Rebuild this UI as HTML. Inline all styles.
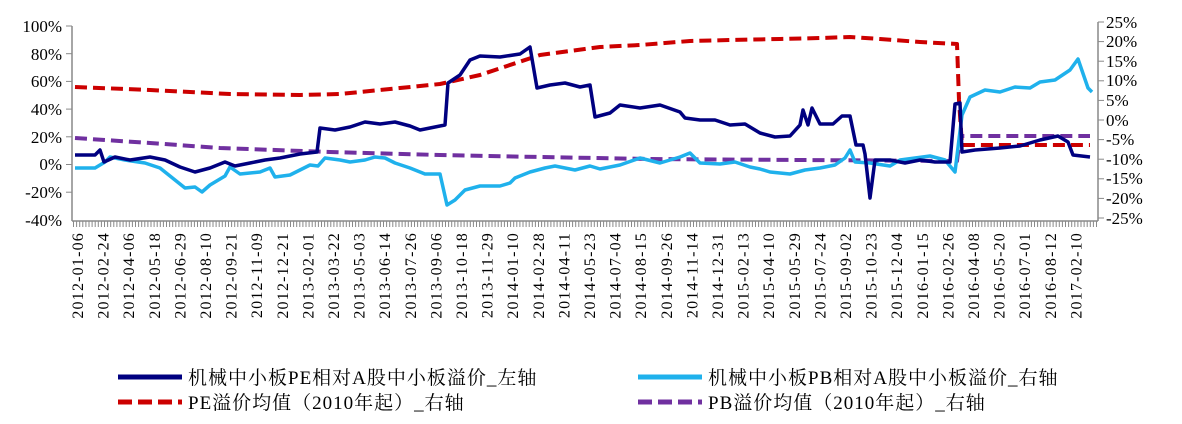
<!DOCTYPE html>
<html><head><meta charset="utf-8"><style>
body{margin:0;background:#fff;}
svg text{font-family:"Liberation Serif","Noto Serif CJK SC",serif;fill:#000;}
</style></head><body>
<svg id="s" width="1182" height="419" xmlns="http://www.w3.org/2000/svg">
<g stroke="#898989" stroke-width="1.5" fill="none">
<line x1="72" y1="26" x2="72" y2="221"/>
<line x1="1098" y1="22" x2="1098" y2="221"/>
<line x1="72" y1="221" x2="1098" y2="221"/>
</g>
<g stroke="#898989" stroke-width="1">
<line x1="66" y1="26" x2="72" y2="26"/><line x1="66" y1="53.7" x2="72" y2="53.7"/><line x1="66" y1="81.4" x2="72" y2="81.4"/><line x1="66" y1="109.1" x2="72" y2="109.1"/><line x1="66" y1="136.8" x2="72" y2="136.8"/><line x1="66" y1="164.5" x2="72" y2="164.5"/><line x1="66" y1="192.2" x2="72" y2="192.2"/>
<line x1="1098" y1="22" x2="1104" y2="22"/><line x1="1098" y1="41.6" x2="1104" y2="41.6"/><line x1="1098" y1="61.2" x2="1104" y2="61.2"/><line x1="1098" y1="80.8" x2="1104" y2="80.8"/><line x1="1098" y1="100.4" x2="1104" y2="100.4"/><line x1="1098" y1="120" x2="1104" y2="120"/><line x1="1098" y1="139.6" x2="1104" y2="139.6"/><line x1="1098" y1="159.2" x2="1104" y2="159.2"/><line x1="1098" y1="178.8" x2="1104" y2="178.8"/><line x1="1098" y1="198.4" x2="1104" y2="198.4"/><line x1="1098" y1="218" x2="1104" y2="218"/>
</g>
<line x1="73" y1="224" x2="1098" y2="224" stroke="#898989" stroke-width="6" stroke-dasharray="1,2.1"/>
<g font-size="17" text-anchor="end">
<text x="62" y="32">100%</text><text x="62" y="60">80%</text><text x="62" y="87">60%</text><text x="62" y="115">40%</text><text x="62" y="143">20%</text><text x="62" y="170">0%</text><text x="62" y="198">-20%</text><text x="62" y="226">-40%</text>
</g>
<g font-size="17" text-anchor="start" style="font-family:'DejaVu Sans Condensed','DejaVu Sans',sans-serif">
<text x="1106" y="28">25%</text><text x="1106" y="47">20%</text><text x="1106" y="67">15%</text><text x="1106" y="86">10%</text><text x="1106" y="106">5%</text><text x="1106" y="126">0%</text><text x="1106" y="145">-5%</text><text x="1106" y="165">-10%</text><text x="1106" y="184">-15%</text><text x="1106" y="204">-20%</text><text x="1106" y="224">-25%</text>
</g>
<g font-size="16" text-anchor="end" letter-spacing="1.2">
<text transform="translate(83,232) rotate(-90)">2012-01-06</text>
<text transform="translate(108.6,232) rotate(-90)">2012-02-24</text>
<text transform="translate(134.2,232) rotate(-90)">2012-04-06</text>
<text transform="translate(159.8,232) rotate(-90)">2012-05-18</text>
<text transform="translate(185.4,232) rotate(-90)">2012-06-29</text>
<text transform="translate(211,232) rotate(-90)">2012-08-10</text>
<text transform="translate(236.6,232) rotate(-90)">2012-09-21</text>
<text transform="translate(262.2,232) rotate(-90)">2012-11-09</text>
<text transform="translate(287.8,232) rotate(-90)">2012-12-21</text>
<text transform="translate(313.4,232) rotate(-90)">2013-02-01</text>
<text transform="translate(339,232) rotate(-90)">2013-03-22</text>
<text transform="translate(364.6,232) rotate(-90)">2013-05-03</text>
<text transform="translate(390.2,232) rotate(-90)">2013-06-14</text>
<text transform="translate(415.8,232) rotate(-90)">2013-07-26</text>
<text transform="translate(441.4,232) rotate(-90)">2013-09-06</text>
<text transform="translate(467,232) rotate(-90)">2013-10-18</text>
<text transform="translate(492.6,232) rotate(-90)">2013-11-29</text>
<text transform="translate(518.2,232) rotate(-90)">2014-01-10</text>
<text transform="translate(543.8,232) rotate(-90)">2014-02-28</text>
<text transform="translate(569.4,232) rotate(-90)">2014-04-11</text>
<text transform="translate(595,232) rotate(-90)">2014-05-23</text>
<text transform="translate(620.6,232) rotate(-90)">2014-07-04</text>
<text transform="translate(646.2,232) rotate(-90)">2014-08-15</text>
<text transform="translate(671.8,232) rotate(-90)">2014-09-26</text>
<text transform="translate(697.4,232) rotate(-90)">2014-11-14</text>
<text transform="translate(723,232) rotate(-90)">2014-12-31</text>
<text transform="translate(748.6,232) rotate(-90)">2015-02-13</text>
<text transform="translate(774.2,232) rotate(-90)">2015-04-10</text>
<text transform="translate(799.8,232) rotate(-90)">2015-05-29</text>
<text transform="translate(825.4,232) rotate(-90)">2015-07-24</text>
<text transform="translate(851,232) rotate(-90)">2015-09-02</text>
<text transform="translate(876.6,232) rotate(-90)">2015-10-23</text>
<text transform="translate(902.2,232) rotate(-90)">2015-12-04</text>
<text transform="translate(927.8,232) rotate(-90)">2016-01-15</text>
<text transform="translate(953.4,232) rotate(-90)">2016-02-26</text>
<text transform="translate(979,232) rotate(-90)">2016-04-08</text>
<text transform="translate(1004.6,232) rotate(-90)">2016-05-20</text>
<text transform="translate(1030.2,232) rotate(-90)">2016-07-01</text>
<text transform="translate(1055.8,232) rotate(-90)">2016-08-12</text>
<text transform="translate(1081.4,232) rotate(-90)">2017-02-10</text>
</g>
<g fill="none" stroke-linejoin="round">
<polyline stroke="#cc0000" stroke-width="4" stroke-dasharray="12,6" points="75,87 150,90 230,94 300,95 340,94 380,90 440,84 480,75 540,55 600,47 640,45 690,41 730,40 780,39 820,38 850,37 880,39 920,42 957,44 959,100 962,145 1090,145"/>
<polyline stroke="#7030a0" stroke-width="4" stroke-dasharray="12,6" points="75,138 150,143 220,148 330,152 440,155 540,157 650,159 800,160 957,161 960,136 1090,136"/>
<polyline stroke="#1fb1ec" stroke-width="3.5" points="75,168 95,168 105,162 110,157 125,160 145,163 160,168 175,180 185,188 195,187 202,192 210,185 225,176 230,167 240,174 260,172 270,168 275,177 290,175 300,170 310,165 318,166 325,158 340,160 350,162 365,160 375,157 385,158 395,163 410,168 425,174 440,174 447,205 455,200 465,190 480,186 500,186 510,183 515,178 530,172 545,168 555,166 575,170 590,166 600,169 620,165 640,158 660,163 680,157 690,153 700,163 720,164 735,162 750,167 760,169 770,172 790,174 805,170 820,168 835,165 845,158 850,150 855,162 870,163 890,166 900,160 915,158 930,156 945,160 955,172 962,115 970,97 985,90 1000,92 1015,87 1030,88 1040,82 1055,80 1070,70 1078,59 1088,88 1092,92"/>
<polyline stroke="#000080" stroke-width="3.5" points="75,155 95,155 100,150 104,162 115,157 130,160 150,157 165,160 180,167 195,172 210,168 225,162 235,166 250,163 265,160 280,158 300,154 317,152 320,128 335,130 350,127 365,122 380,124 395,122 410,126 420,130 430,128 445,125 448,83 460,75 470,60 480,56 500,57 520,54 530,47 537,88 550,85 565,83 580,87 590,85 595,117 610,113 620,105 640,108 660,105 680,112 685,118 700,120 715,120 730,125 745,124 760,133 775,137 790,136 800,125 803,110 808,125 812,108 820,124 833,124 842,116 850,116 856,145 863,145 865,154 870,198 875,160 890,160 905,163 920,160 935,162 950,162 955,104 960,103 962,152 975,150 1000,148 1020,146 1040,140 1058,136 1068,142 1073,155 1090,157"/>
</g>
<g stroke-width="5">
<line x1="118" y1="377" x2="182" y2="377" stroke="#000080"/>
<line x1="638" y1="377" x2="702" y2="377" stroke="#1fb1ec"/>
<line x1="118" y1="402" x2="182" y2="402" stroke="#cc0000" stroke-dasharray="14,6"/>
<line x1="638" y1="402" x2="702" y2="402" stroke="#7030a0" stroke-dasharray="14,6"/>
</g>
<g font-size="19" letter-spacing="1">
<text x="188" y="384">机械中小板PE相对A股中小板溢价_左轴</text>
<text x="708" y="384">机械中小板PB相对A股中小板溢价_右轴</text>
<text x="188" y="409">PE溢价均值（2010年起）_右轴</text>
<text x="708" y="409">PB溢价均值（2010年起）_右轴</text>
</g>
</svg>
</body></html>
